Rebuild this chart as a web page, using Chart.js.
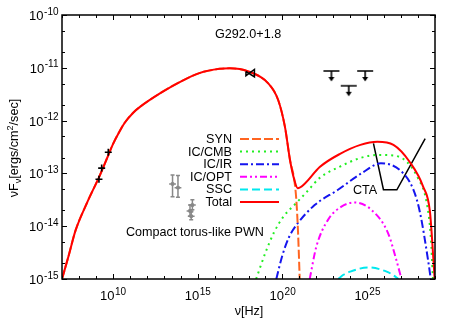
<!DOCTYPE html>
<html>
<head>
<meta charset="utf-8">
<script src="https://cdn.jsdelivr.net/npm/chart.js@4.4.1/dist/chart.umd.min.js"></script>
<style>
  body { margin: 0; background: #fff; }
  #wrap { width: 458px; height: 321px; position: relative; }
</style>
</head>
<body>
<div id="wrap"><canvas id="graph"></canvas></div>
<script>
// values are log10(nu [Hz]) and log10(nuFnu [erg/cm2/s])
const xMajorExp = [10, 15, 20, 25];
const yMajorExp = [-15, -14, -13, -12, -11, -10];

const totalLogNu = [7.0, 7.4, 7.8, 8.5, 9.2, 9.7, 10.0, 10.4, 10.7, 11.2, 11.6, 12.8, 14.0, 15.1, 16.3, 16.9, 18.0, 19.15, 19.75, 20.15, 20.45, 20.7, 20.9, 21.3, 22.2, 23.4, 24.6, 25.6, 26.55, 27.5, 28.3, 28.7, 28.9, 29.0];
const totalLogF = [-15.0, -14.55, -14.08, -13.54, -13.06, -12.68, -12.45, -12.2, -12.04, -11.85, -11.74, -11.48, -11.26, -11.10, -11.02, -11.01, -11.07, -11.29, -11.61, -12.12, -12.75, -13.12, -13.28, -13.2, -12.88, -12.63, -12.46, -12.40, -12.46, -12.78, -13.25, -13.72, -14.6, -15.1];

const synLogNu = [7.0, 7.4, 7.8, 8.5, 9.2, 9.7, 10.0, 10.4, 10.7, 11.2, 11.6, 12.8, 14.0, 15.1, 16.3, 16.9, 18.0, 19.15, 19.75, 20.15, 20.45, 20.7, 20.82, 20.92, 21.02, 21.08];
const synLogF = [-15.0, -14.55, -14.08, -13.54, -13.06, -12.68, -12.45, -12.2, -12.04, -11.85, -11.74, -11.48, -11.26, -11.10, -11.02, -11.01, -11.07, -11.29, -11.61, -12.12, -12.75, -13.12, -13.5, -14.1, -15.0, -15.6];

const cmbLogNu = [18.45, 19.0, 19.5, 20.06, 20.85, 21.44, 22.22, 23.4, 24.58, 25.6, 26.55, 27.34, 27.93, 28.52, 28.75, 28.88];
const cmbLogF = [-15.0, -14.5, -14.12, -13.82, -13.55, -13.35, -13.08, -12.87, -12.71, -12.65, -12.66, -12.78, -13.05, -13.57, -14.2, -15.0];

const irLogNu = [19.64, 20.0, 20.4, 20.82, 21.9, 23.28, 24.66, 25.8, 26.94, 27.73, 28.12, 28.59, 28.75];
const irLogF = [-15.0, -14.55, -14.2, -13.98, -13.6, -13.31, -13.0, -12.81, -12.94, -13.31, -13.75, -14.64, -15.0];

const optLogNu = [21.61, 22.0, 22.69, 23.48, 24.27, 25.25, 26.23, 26.72, 27.02];
const optLogF = [-15.0, -14.39, -13.88, -13.63, -13.55, -13.69, -14.13, -14.64, -15.0];

const sscLogNu = [23.3, 23.6, 24.0, 25.07, 26.15, 26.5, 26.84];
const sscLogF = [-15.0, -14.92, -14.86, -14.78, -14.86, -14.92, -15.0];

// radio points (black crosses)
const radioLogNu = [9.18, 9.34, 9.73];
const radioLogF = [-13.11, -12.90, -12.60];

// compact torus-like PWN (grey)
const greyLogNu = [13.52, 13.84, 14.69, 14.55, 14.62];
const greyLogF = [-13.2, -13.27, -13.60, -13.71, -13.81];
const greyLogFlo = [-13.44, -13.45, -13.69, -13.81, -13.88];
const greyLogFhi = [-13.03, -13.04, -13.50, -13.60, -13.73];

// X-ray bowtie
const bowLogNu = [17.85, 18.35, 18.35, 17.85, 17.85];
const bowLogF = [-11.07, -11.17, -11.03, -11.15, -11.07];

// upper limits
const ulLogNu = [22.89, 23.91, 24.88];
const ulLogF = [-11.06, -11.34, -11.06];

// CTA sensitivity
const ctaLogNu = [25.37, 25.96, 26.75, 28.42];
const ctaLogF = [-12.43, -13.31, -13.31, -12.34];

const FONT = '"Liberation Sans", Arial, sans-serif';
const TXT = '12.6px ' + FONT;

function pts(xs, ys) {
    return xs.map((v, i) => ({x: Math.pow(10, v), y: Math.pow(10, ys[i])}));
}

function ulCanvas() {
    const c = document.createElement('canvas');
    c.width = 18; c.height = 24;
    const g = c.getContext('2d');
    g.strokeStyle = '#000';
    g.lineWidth = 1.6;
    g.beginPath();
    g.moveTo(1, 12); g.lineTo(17, 12);
    g.moveTo(9, 12); g.lineTo(9, 19);
    g.stroke();
    g.fillStyle = '#000';
    g.beginPath();
    g.moveTo(6, 18); g.lineTo(12, 18); g.lineTo(9, 22.5);
    g.closePath(); g.fill();
    return c;
}

function curve(label, xs, ys, color, dash, order, width) {
    return {
        label: label,
        data: pts(xs, ys),
        showLine: true,
        borderColor: color,
        backgroundColor: color,
        borderWidth: width || 2,
        borderDash: dash,
        pointRadius: 0,
        cubicInterpolationMode: 'monotone',
        order: order
    };
}

const legendItems = [];

function sup(ctx, x, y, base, exp, align) {
    ctx.font = '13px ' + FONT;
    const wb = ctx.measureText(base).width;
    ctx.font = '10px ' + FONT;
    const we = ctx.measureText(exp).width;
    let x0 = x;
    if (align === 'center') x0 = x - (wb + we) / 2;
    if (align === 'right') x0 = x - (wb + we);
    ctx.textAlign = 'left';
    ctx.textBaseline = 'alphabetic';
    ctx.font = '13px ' + FONT;
    ctx.fillText(base, x0, y);
    ctx.font = '10px ' + FONT;
    ctx.fillText(exp, x0 + wb + 0.5, y - 5.5);
}

const decor = {
    id: 'decor',
    afterDatasetsDraw(chart) {
        const ctx = chart.ctx;
        const a = chart.chartArea;
        const xs = chart.scales.x, ys = chart.scales.y;
        ctx.save();

        // error bars
        ctx.strokeStyle = '#000';
        ctx.lineWidth = 1.6;
        radioLogNu.forEach((lx, i) => {
            const px = xs.getPixelForValue(Math.pow(10, lx));
            const py = ys.getPixelForValue(Math.pow(10, radioLogF[i]));
            ctx.beginPath();
            ctx.moveTo(px - 3.5, py); ctx.lineTo(px + 3.5, py);
            ctx.moveTo(px, py - 3.5); ctx.lineTo(px, py + 3.5);
            ctx.stroke();
        });
        ctx.strokeStyle = '#888888';
        ctx.lineWidth = 1.5;
        greyLogNu.forEach((lx, i) => {
            const px = xs.getPixelForValue(Math.pow(10, lx));
            const pl = xs.getPixelForValue(Math.pow(10, lx - 0.2));
            const pr = xs.getPixelForValue(Math.pow(10, lx + 0.2));
            const py = ys.getPixelForValue(Math.pow(10, greyLogF[i]));
            const plo = ys.getPixelForValue(Math.pow(10, greyLogFlo[i]));
            const phi = ys.getPixelForValue(Math.pow(10, greyLogFhi[i]));
            ctx.beginPath();
            ctx.moveTo(px, plo); ctx.lineTo(px, phi);
            ctx.moveTo(px - 2, plo); ctx.lineTo(px + 2, plo);
            ctx.moveTo(px - 2, phi); ctx.lineTo(px + 2, phi);
            ctx.moveTo(pl, py); ctx.lineTo(pr, py);
            ctx.stroke();
        });

        // frame
        ctx.strokeStyle = '#000';
        ctx.lineWidth = 1.5;
        ctx.strokeRect(a.left, a.top, a.right - a.left, a.bottom - a.top);

        // ticks (inward, mirrored)
        ctx.lineWidth = 1;
        ctx.beginPath();
        for (let e = 7; e <= 29; e++) {
            const px = Math.round(xs.getPixelForValue(Math.pow(10, e))) + 0.5;
            const len = e % 5 === 0 ? 5 : 3;
            ctx.moveTo(px, a.bottom); ctx.lineTo(px, a.bottom - len);
            ctx.moveTo(px, a.top); ctx.lineTo(px, a.top + len);
        }
        for (let e = -15; e <= -10; e++) {
            [1, 2, 5].forEach(m => {
                const v = m * Math.pow(10, e);
                if (v > 1.0001e-10) return;
                const py = Math.round(ys.getPixelForValue(v)) + 0.5;
                const len = m === 1 ? 5 : 3;
                ctx.moveTo(a.left, py); ctx.lineTo(a.left + len, py);
                ctx.moveTo(a.right, py); ctx.lineTo(a.right - len, py);
            });
        }
        ctx.stroke();

        // tick labels
        ctx.fillStyle = '#000';
        xMajorExp.forEach(e => {
            const px = xs.getPixelForValue(Math.pow(10, e));
            sup(ctx, px, a.bottom + 21, '10', String(e), 'center');
        });
        yMajorExp.forEach(e => {
            const py = ys.getPixelForValue(Math.pow(10, e));
            sup(ctx, 58, py + 5, '10', String(e), 'right');
        });

        // axis titles
        ctx.font = TXT;
        ctx.textAlign = 'center';
        ctx.fillText('\u03bd[Hz]', 249, 315);

        ctx.save();
        ctx.translate(18, 148);
        ctx.rotate(-Math.PI / 2);
        const parts = [['\u03bdF', 12.6, 0], ['\u03bd', 9, 3], ['[ergs/cm', 12.6, 0], ['2', 9, -5], ['/sec]', 12.6, 0]];
        let tw = 0;
        parts.forEach(p => { ctx.font = p[1] + 'px ' + FONT; tw += ctx.measureText(p[0]).width; });
        let cx = -tw / 2;
        ctx.textAlign = 'left';
        parts.forEach(p => {
            ctx.font = p[1] + 'px ' + FONT;
            ctx.fillText(p[0], cx, p[2]);
            cx += ctx.measureText(p[0]).width;
        });
        ctx.restore();

        // annotations
        ctx.font = TXT;
        ctx.textAlign = 'left';
        ctx.fillText('G292.0+1.8', 215, 38);
        ctx.fillText('Compact torus-like PWN', 126, 236);
        ctx.fillText('CTA', 353, 194);

        // legend
        legendItems.forEach((ds, i) => {
            const y = 139 + i * 12.6;
            ctx.font = TXT;
            ctx.textAlign = 'right';
            ctx.textBaseline = 'middle';
            ctx.fillStyle = '#000';
            ctx.fillText(ds.label, 232, y + 0.5);
            ctx.strokeStyle = ds.borderColor;
            ctx.lineWidth = ds.borderWidth;
            ctx.setLineDash(ds.borderDash || []);
            ctx.beginPath();
            ctx.moveTo(240, y); ctx.lineTo(279, y);
            ctx.stroke();
            ctx.setLineDash([]);
        });
        ctx.restore();
    }
};

function on_load() {
    const graph = document.getElementById('graph');
    const syn = curve('SYN', synLogNu, synLogF, '#ff6420', [9, 3], 1);
    const cmb = curve('IC/CMB', cmbLogNu, cmbLogF, '#22ee22', [2, 4], 2);
    const ir = curve('IC/IR', irLogNu, irLogF, '#1515ee', [8, 3, 2, 3], 3);
    const opt = curve('IC/OPT', optLogNu, optLogF, '#ff00ff', [7, 3, 2, 3, 2, 3], 4);
    const ssc = curve('SSC', sscLogNu, sscLogF, '#00e8ee', [8, 4], 5);
    const total = curve('Total', totalLogNu, totalLogF, '#ff0000', [], 0);
    legendItems.push(syn, cmb, ir, opt, ssc, total);

    new Chart(graph, {
        type: 'scatter',
        data: {
            datasets: [
                total, syn, cmb, ir, opt, ssc,
                {
                    label: 'CTA',
                    data: pts(ctaLogNu, ctaLogF),
                    showLine: true,
                    borderColor: '#000',
                    borderWidth: 1.5,
                    pointRadius: 0,
                    tension: 0,
                    order: 6
                },
                {
                    label: 'bowtie',
                    data: pts(bowLogNu, bowLogF),
                    showLine: true,
                    borderColor: '#000',
                    borderWidth: 1.5,
                    pointRadius: 0,
                    tension: 0,
                    order: -1
                },
                {
                    label: 'UL',
                    data: pts(ulLogNu, ulLogF),
                    pointStyle: ulCanvas(),
                    pointRadius: 8,
                    order: 7
                },
                {
                    label: 'PWN',
                    data: pts(greyLogNu, greyLogF),
                    pointStyle: 'rect',
                    pointRadius: 1.8,
                    backgroundColor: '#888888',
                    borderColor: '#888888',
                    borderWidth: 1,
                    order: 8
                }
            ]
        },
        options: {
            responsive: true,
            maintainAspectRatio: false,
            animation: false,
            layout: {padding: {left: 62, top: 15, right: 23, bottom: 42}},
            plugins: {
                legend: {display: false},
                tooltip: {enabled: false}
            },
            scales: {
                x: {type: 'logarithmic', min: 1e7, max: 1e29, display: false},
                y: {type: 'logarithmic', min: 1e-15, max: 1e-10, display: false}
            }
        },
        plugins: [decor]
    });
}

window.addEventListener('DOMContentLoaded', on_load);
</script>
</body>
</html>
